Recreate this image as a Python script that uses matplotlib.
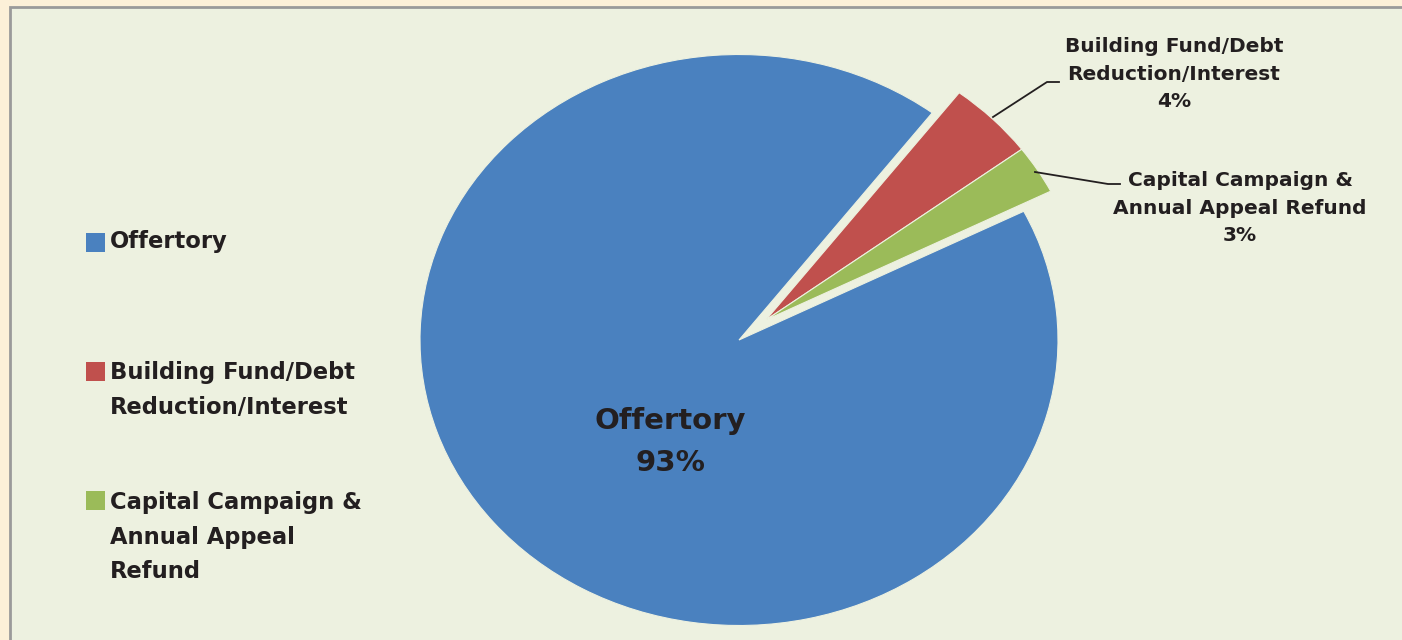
import matplotlib.pyplot as plt
from matplotlib.patches import Rectangle
from matplotlib.lines import Line2D
import numpy as np

plt.rcParams['font.family'] = ['DejaVu Sans']

W, H = 1402, 640

categories = ['Offertory', 'Building Fund/Debt\nReduction/Interest', 'Capital Campaign &\nAnnual Appeal Refund']
legend_labels = ['Offertory', 'Building Fund/Debt\nReduction/Interest', 'Capital Campaign &\nAnnual Appeal\nRefund']
values = [92.8, 4.45, 2.75]
colors = ['#4a81bf', '#c0504d', '#9bbb59']

outer_bg = '#fcf0d8'
inner_bg = '#edf1e0'
txt_col = '#231f20'


def px(x, y):
    # pixel (from top-left) -> figure fraction
    return x / W, 1 - y / H


fig = plt.figure(figsize=(W / 100, H / 100), dpi=100)
fig.patch.set_facecolor(outer_bg)
x0, y0 = px(10, 7)
fig.patches.append(Rectangle((x0, -0.05), 1.1, y0 + 0.05, transform=fig.transFigure,
                             facecolor=inner_bg, edgecolor='#9a9a9a', linewidth=2, zorder=-10))

ax = fig.add_axes([0, 0, 1, 1])
ax.set_facecolor('none')
wedges, _ = ax.pie(values, colors=colors, startangle=26.8, counterclock=False,
                   wedgeprops=dict(edgecolor=inner_bg, linewidth=0.8))

# pull the two small slices out together
a = np.deg2rad((wedges[2].theta1 + wedges[1].theta2) / 2)
d = 0.11
for w in wedges[1:]:
    w.set_center((d * np.cos(a), d * np.sin(a)))

# ellipse: centre at (739, 340) px, radii 319 x 285.5 px
ax.set_aspect('auto')
ax.set_xlim(-739 / 319, (W - 739) / 319)
ax.set_ylim(-(H - 340) / 285.5, 340 / 285.5)
ax.axis('off')

pct = [f"{round(v):.0f}%" for v in values]

# centre label
fig.text(*px(670, 442), f"{categories[0]}\n{pct[0]}", ha='center', va='center',
         fontsize=21, fontweight='bold', color=txt_col, linespacing=1.6)
# outer labels
fig.text(*px(1174, 74), f"{categories[1]}\n{pct[1]}", ha='center', va='center',
         fontsize=14.5, fontweight='bold', color=txt_col, linespacing=1.58)
fig.text(*px(1240, 208), f"{categories[2]}\n{pct[2]}", ha='center', va='center',
         fontsize=14.5, fontweight='bold', color=txt_col, linespacing=1.58)

# leader lines
for pts in [[(993, 117), (1047, 82), (1059, 82)], [(1035, 172), (1108, 184), (1120, 184)]]:
    xs, ys = zip(*[px(*p) for p in pts])
    fig.lines.append(Line2D(xs, ys, transform=fig.transFigure, color=txt_col, linewidth=1.3))

# legend
sq_y = [242, 371, 500]
txt_y = [230, 361, 491]
for lab, c, yy, ty in zip(legend_labels, colors, sq_y, txt_y):
    sx, sy = px(86, yy + 9.5)
    fig.patches.append(Rectangle((sx, sy), 19 / W, 19 / H, transform=fig.transFigure,
                                 facecolor=c, edgecolor='none'))
    fig.text(*px(110, ty), lab, ha='left', va='top', fontsize=16.3, fontweight='bold',
             color=txt_col, linespacing=1.64)

fig.savefig('out.png', dpi=100, facecolor=fig.get_facecolor())
